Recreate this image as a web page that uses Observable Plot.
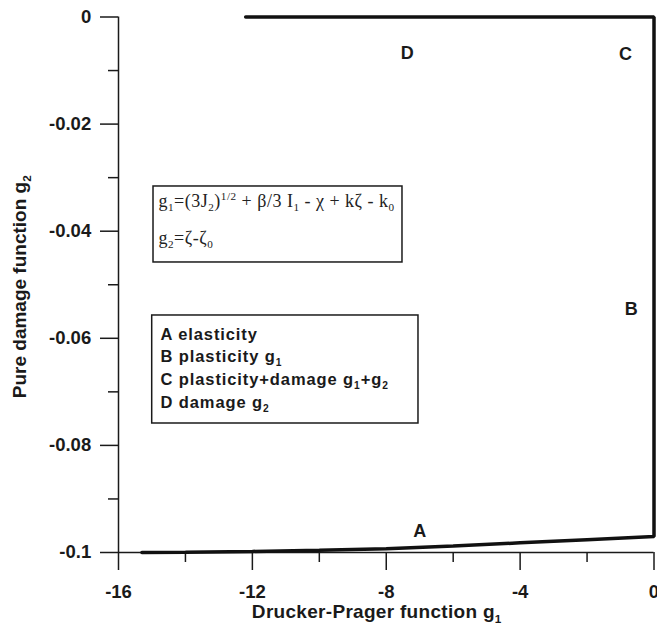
<!DOCTYPE html>
<html><head><meta charset="utf-8">
<script src="https://cdn.jsdelivr.net/npm/d3@7"></script>
<script src="https://cdn.jsdelivr.net/npm/@observablehq/plot@0.6"></script>
<style>body{margin:0;background:#fff} svg{display:block}</style>
</head><body><div id="chart"></div>
<script>
// Path of the yield/damage surface (g1, g2)
const curveG1 = [-15.3, -14, -12, -10, -8, -6, -4, -2, 0, 0, -12.2];
const curveG2 = [-0.1, -0.09995, -0.0998, -0.0996, -0.0993, -0.0988, -0.0982, -0.0976, -0.0970, 0, 0];

// Axis ticks and labels
const majorX = [-16, -12, -8, -4, 0];
const minorX = [-14, -10, -6, -2];
const xTickLabels = ["-16", "-12", "-8", "-4", "0"];
const majorY = [0, -0.02, -0.04, -0.06, -0.08, -0.1];
const minorY = [-0.01, -0.03, -0.05, -0.07, -0.09];
const yTickLabels = ["0", "-0.02", "-0.04", "-0.06", "-0.08", "-0.1"];
const xTitle = "Drucker-Prager function g_{1}";
const yTitle = "Pure damage function g_{2}";

// Region labels
const pointLabels = ["A", "B", "C", "D"];
const pointLabelG1 = [-7.0, -0.68, -0.85, -7.37];
const pointLabelG2 = [-0.0961, -0.0545, -0.0070, -0.0068];

// Annotation boxes
const legendLines = ["A elasticity", "B plasticity g_{1}", "C plasticity+damage g_{1}+g_{2}", "D damage g_{2}"];
const equationLines = ["g_{1}=(3J_{2})^{1/2} + β/3 I_{1} - χ + kζ - k_{0}", "g_{2}=ζ-ζ_{0}"];

const ink = "#1a1a1a";
const idx = d3.range(curveG1.length);

const svg = Plot.plot({
  width: 657, height: 624,
  marginLeft: 118, marginRight: 3.5, marginTop: 16.5, marginBottom: 72,
  x: {domain: [-16, 0]},
  y: {domain: [-0.1, 0]},
  style: {fontFamily: "'Liberation Sans', Arial, Helvetica, sans-serif", fontWeight: "bold", background: "#fff", color: ink},
  marks: [
    // axis lines
    Plot.ruleY([-0.1], {stroke: ink, strokeWidth: 1.5}),
    Plot.ruleX([-16], {stroke: ink, strokeWidth: 1.5}),
    Plot.axisX(majorX, {tickSize: 18, tickPadding: 14, stroke: ink, strokeWidth: 1.5, fill: ink, fontSize: 18.5, fontWeight: "bold", label: null,
      tickFormat: d => xTickLabels[majorX.indexOf(d)]}),
    Plot.axisX(minorX, {tickSize: 10, stroke: ink, strokeWidth: 1.5, label: null, tickFormat: () => ""}),
    Plot.axisY(majorY, {tickSize: 18, tickPadding: 9.3, stroke: ink, strokeWidth: 1.5, fill: ink, fontSize: 18.5, fontWeight: "bold", label: null,
      tickFormat: d => yTickLabels[majorY.indexOf(d)]}),
    Plot.axisY(minorY, {tickSize: 10, stroke: ink, strokeWidth: 1.5, label: null, tickFormat: () => ""}),
    // axis titles
    Plot.text([xTitle], {frameAnchor: "bottom", dx: -9.5, dy: 59.5, lineAnchor: "middle", textAnchor: "middle", fontSize: 19, fill: ink}),
    Plot.text([yTitle], {frameAnchor: "left", dx: -98.5, dy: 2, rotate: -90, lineAnchor: "middle", textAnchor: "middle", fontSize: 19, fill: ink}),
    // equation box
    Plot.rect([0], {x1: -14.954, x2: -7.515, y1: -0.03165, y2: -0.04584, fill: "white", stroke: ink, strokeWidth: 1.5}),
    Plot.text(equationLines, {x: -14.805, y: (d, i) => [-0.03440, -0.04130][i], textAnchor: "start", lineAnchor: "middle",
      fontFamily: "'Liberation Serif', 'Times New Roman', serif", fontWeight: "normal", fontSize: 18, fill: "#222"}),
    // legend box
    Plot.rect([0], {x1: -14.993, x2: -7.037, y1: -0.05574, y2: -0.07591, fill: "white", stroke: ink, strokeWidth: 1.5}),
    Plot.text(legendLines, {x: -14.745, y: (d, i) => [-0.05929, -0.06340, -0.06770, -0.07199][i], textAnchor: "start", lineAnchor: "middle",
      fontSize: 16.5, fill: ink}),
    // curve
    Plot.line(idx, {x: i => curveG1[i], y: i => curveG2[i], stroke: "#111", strokeWidth: 3.5, strokeLinejoin: "miter", curve: "linear"}),
    // region labels
    Plot.text(pointLabels, {x: (d, i) => pointLabelG1[i], y: (d, i) => pointLabelG2[i], textAnchor: "middle", lineAnchor: "middle", fontSize: 18, fill: ink})
  ]
});
document.getElementById("chart").appendChild(svg);

const NS = "http://www.w3.org/2000/svg";
function richify(el) {
  const s = el.textContent;
  if (!/[_^]\{/.test(s)) return;
  const fs = parseFloat(getComputedStyle(el).fontSize) || 16;
  while (el.firstChild) el.removeChild(el.firstChild);
  const re = /([_^])\{([^}]*)\}/g;
  let last = 0, m, offset = 0;
  const add = (txt, mode) => {
    if (!txt) return;
    const t = document.createElementNS(NS, "tspan");
    const target = mode === "_" ? 0.24 * fs : mode === "^" ? -0.38 * fs : 0;
    const dy = target - offset;
    if (dy) t.setAttribute("dy", dy.toFixed(2));
    offset = target;
    if (mode) t.setAttribute("font-size", (0.62 * fs).toFixed(2));
    t.textContent = txt;
    el.appendChild(t);
  };
  while ((m = re.exec(s))) {
    add(s.slice(last, m.index), null);
    add(m[2], m[1]);
    last = re.lastIndex;
  }
  add(s.slice(last), null);
}
const legendSet = new Set(legendLines);
svg.querySelectorAll("text").forEach(el => {
  const s = el.textContent;
  if (legendSet.has(s)) el.style.letterSpacing = "0.9px";
  if (s === xTitle) el.style.letterSpacing = "0.3px";
  if (equationLines.includes(s)) el.style.letterSpacing = "0.5px";
  richify(el);
});
</script>
</body></html>
